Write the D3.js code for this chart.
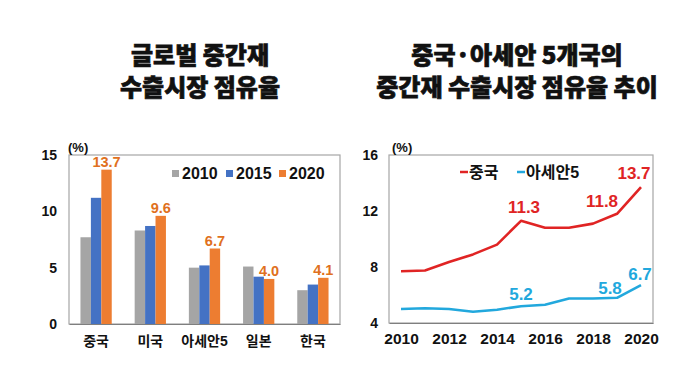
<!DOCTYPE html>
<html><head><meta charset="utf-8">
<script src="https://cdn.jsdelivr.net/npm/d3@7"></script>
<style>
body{margin:0;background:#fff;}
text{font-family:"Liberation Sans","Noto Sans CJK KR",sans-serif;}
.ttl{font-family:"Noto Sans CJK KR",sans-serif;font-weight:900;font-size:24px;fill:#111;stroke:#111;stroke-width:0.7px;}
</style></head>
<body>
<svg id="c" width="700" height="387"></svg>
<script>
// ---- Left chart data ----
const barCategories = ["중국","미국","아세안5","일본","한국"];
const barYears = ["2010","2015","2020"];
const bar2010 = [7.7, 8.3, 5.0, 5.1, 3.0];
const bar2015 = [11.2, 8.7, 5.2, 4.2, 3.5];
const bar2020 = [13.7, 9.6, 6.7, 4.0, 4.1];
const barTicks = [0,5,10,15];
// ---- Right chart data ----
const lineYears = [2010,2011,2012,2013,2014,2015,2016,2017,2018,2019,2020];
const chinaSeries = [7.7,7.75,8.35,8.9,9.6,11.3,10.8,10.8,11.1,11.8,13.7];
const aseanSeries = [5.0,5.05,5.0,4.8,4.95,5.2,5.3,5.75,5.75,5.8,6.7];
const lineTicks = [4,8,12,16];
const lineXTicks = [2010,2012,2014,2016,2018,2020];
const lineLabelsChina = [{year:2015,v:11.3},{year:2019,v:11.8},{year:2020,v:13.7}];
const lineLabelsAsean = [{year:2015,v:5.2},{year:2019,v:5.8},{year:2020,v:6.7}];

const svg = d3.select("#c");
const barColors = ["#A5A5A5","#4472C4","#ED7D31"];

// titles
function title(x, lines){
  lines.forEach((l,i)=>svg.append("text").attr("class","ttl").attr("text-anchor","middle")
    .attr("x",x).attr("y",64+i*32).text(l));
}
title(200,["글로벌 중간재","수출시장 점유율"]);
title(517,["중국·아세안 5개국의","중간재 수출시장 점유율 추이"]);

// ---- Left bar chart ----
const L = {x0:69,x1:340,y0:155,y1:324};
const xb = d3.scaleBand().domain(barCategories).range([L.x0,L.x1]).paddingInner(0).paddingOuter(0);
const xs = d3.scaleBand().domain(barYears).range([0,xb.bandwidth()]).paddingInner(0).paddingOuter(1.1);
const yb = d3.scaleLinear().domain([0,15]).range([L.y1,L.y0]);
const gL = svg.append("g");
gL.append("rect").attr("x",L.x0).attr("y",L.y0).attr("width",L.x1-L.x0).attr("height",L.y1-L.y0)
  .attr("fill","none").attr("stroke","#A6A6A6").attr("stroke-width",1.2);
const series = [bar2010,bar2015,bar2020];
series.forEach((s,si)=>{
  gL.selectAll(null).data(s).enter().append("rect")
    .attr("x",(d,i)=>xb(barCategories[i])+xs(barYears[si]))
    .attr("width",xs.bandwidth())
    .attr("y",d=>yb(d)).attr("height",d=>yb(0)-yb(d))
    .attr("fill",barColors[si]);
});
gL.selectAll(null).data(bar2020).enter().append("text")
  .attr("x",(d,i)=>xb(barCategories[i])+xs("2020")+xs.bandwidth()/2)
  .attr("y",d=>yb(d)-3).attr("text-anchor","middle")
  .attr("font-size",14.5).attr("font-weight","bold").attr("fill","#E07020")
  .text(d=>d.toFixed(1));
const axL = gL.append("g").attr("transform",`translate(${L.x0},0)`)
  .call(d3.axisLeft(yb).tickValues(barTicks).tickSize(0).tickPadding(12));
axL.select(".domain").remove();
axL.selectAll("text").attr("font-size",14).attr("font-weight","bold").attr("fill","#111")
  .style("font-family","Liberation Sans, sans-serif");
const axLB = gL.append("g").attr("transform",`translate(0,${L.y1})`)
  .call(d3.axisBottom(xb).tickSize(0).tickPadding(12));
axLB.select(".domain").attr("stroke","#7F7F7F");
axLB.selectAll("text").attr("font-size",14).attr("font-weight","bold").attr("fill","#111")
  .style("font-family","Liberation Sans, Noto Sans CJK KR, sans-serif");
gL.append("text").attr("x",68).attr("y",152).attr("font-size",13).attr("font-weight","bold").attr("fill","#111").text("(%)");
// legend
const legX = [172,226,279];
barYears.forEach((y,i)=>{
  gL.append("rect").attr("x",legX[i]).attr("y",170).attr("width",7).attr("height",7).attr("fill",barColors[i]);
  gL.append("text").attr("x",legX[i]+10).attr("y",179).attr("font-size",16).attr("font-weight","bold").attr("fill","#111").text(y);
});

// ---- Right line chart ----
const R = {x0:389,x1:653,y0:155,y1:323};
const xl = d3.scalePoint().domain(lineYears).range([R.x0,R.x1]).padding(0.5);
const yl = d3.scaleLinear().domain([4,16]).range([R.y1,R.y0]);
const gR = svg.append("g");
gR.append("rect").attr("x",R.x0).attr("y",R.y0).attr("width",R.x1-R.x0).attr("height",R.y1-R.y0)
  .attr("fill","none").attr("stroke","#A6A6A6").attr("stroke-width",1.2);
const axR = gR.append("g").attr("transform",`translate(${R.x0},0)`)
  .call(d3.axisLeft(yl).tickValues(lineTicks).tickSize(0).tickPadding(11));
axR.select(".domain").remove();
axR.selectAll("text").attr("font-size",14).attr("font-weight","bold").attr("fill","#111");
const axRB = gR.append("g").attr("transform",`translate(0,${R.y1})`)
  .call(d3.axisBottom(xl).tickValues(lineXTicks).tickSize(0).tickPadding(10).tickFormat(d3.format("d")));
axRB.select(".domain").attr("stroke","#7F7F7F");
axRB.selectAll("text").attr("font-size",15.5).attr("font-weight","bold").attr("fill","#111");
gR.append("text").attr("x",392).attr("y",152).attr("font-size",13).attr("font-weight","bold").attr("fill","#111").text("(%)");

const line = d3.line().x((d,i)=>xl(lineYears[i])).y(d=>yl(d));
const red = "#E02424", blue = "#22A8DD";
gR.append("path").attr("d",line(chinaSeries)).attr("fill","none").attr("stroke",red).attr("stroke-width",2.6).attr("stroke-linejoin","round");
gR.append("path").attr("d",line(aseanSeries)).attr("fill","none").attr("stroke",blue).attr("stroke-width",2.6).attr("stroke-linejoin","round");

function lbls(arr,color,dx,dy){
  gR.selectAll(null).data(arr).enter().append("text")
    .attr("x",(d,i)=>xl(d.year)+dx[i]).attr("y",(d,i)=>yl(d.v)+dy[i])
    .attr("text-anchor","middle").attr("font-size",17).attr("font-weight","bold").attr("fill",color)
    .text(d=>d.v.toFixed(1));
}
lbls(lineLabelsChina,red,[3,-15,-7],[-8,-7,-8]);
lbls(lineLabelsAsean,blue,[0,-7,-1],[-6,-4,-5]);

// legend
gR.append("line").attr("x1",460).attr("x2",468).attr("y1",172).attr("y2",172).attr("stroke",red).attr("stroke-width",2.5);
gR.append("text").attr("x",469).attr("y",178).attr("font-size",16).attr("font-weight","bold").attr("fill","#111").text("중국");
gR.append("line").attr("x1",517).attr("x2",525).attr("y1",172).attr("y2",172).attr("stroke",blue).attr("stroke-width",2.5);
gR.append("text").attr("x",526).attr("y",178).attr("font-size",16).attr("font-weight","bold").attr("fill","#111").text("아세안5");
</script>
</body></html>
